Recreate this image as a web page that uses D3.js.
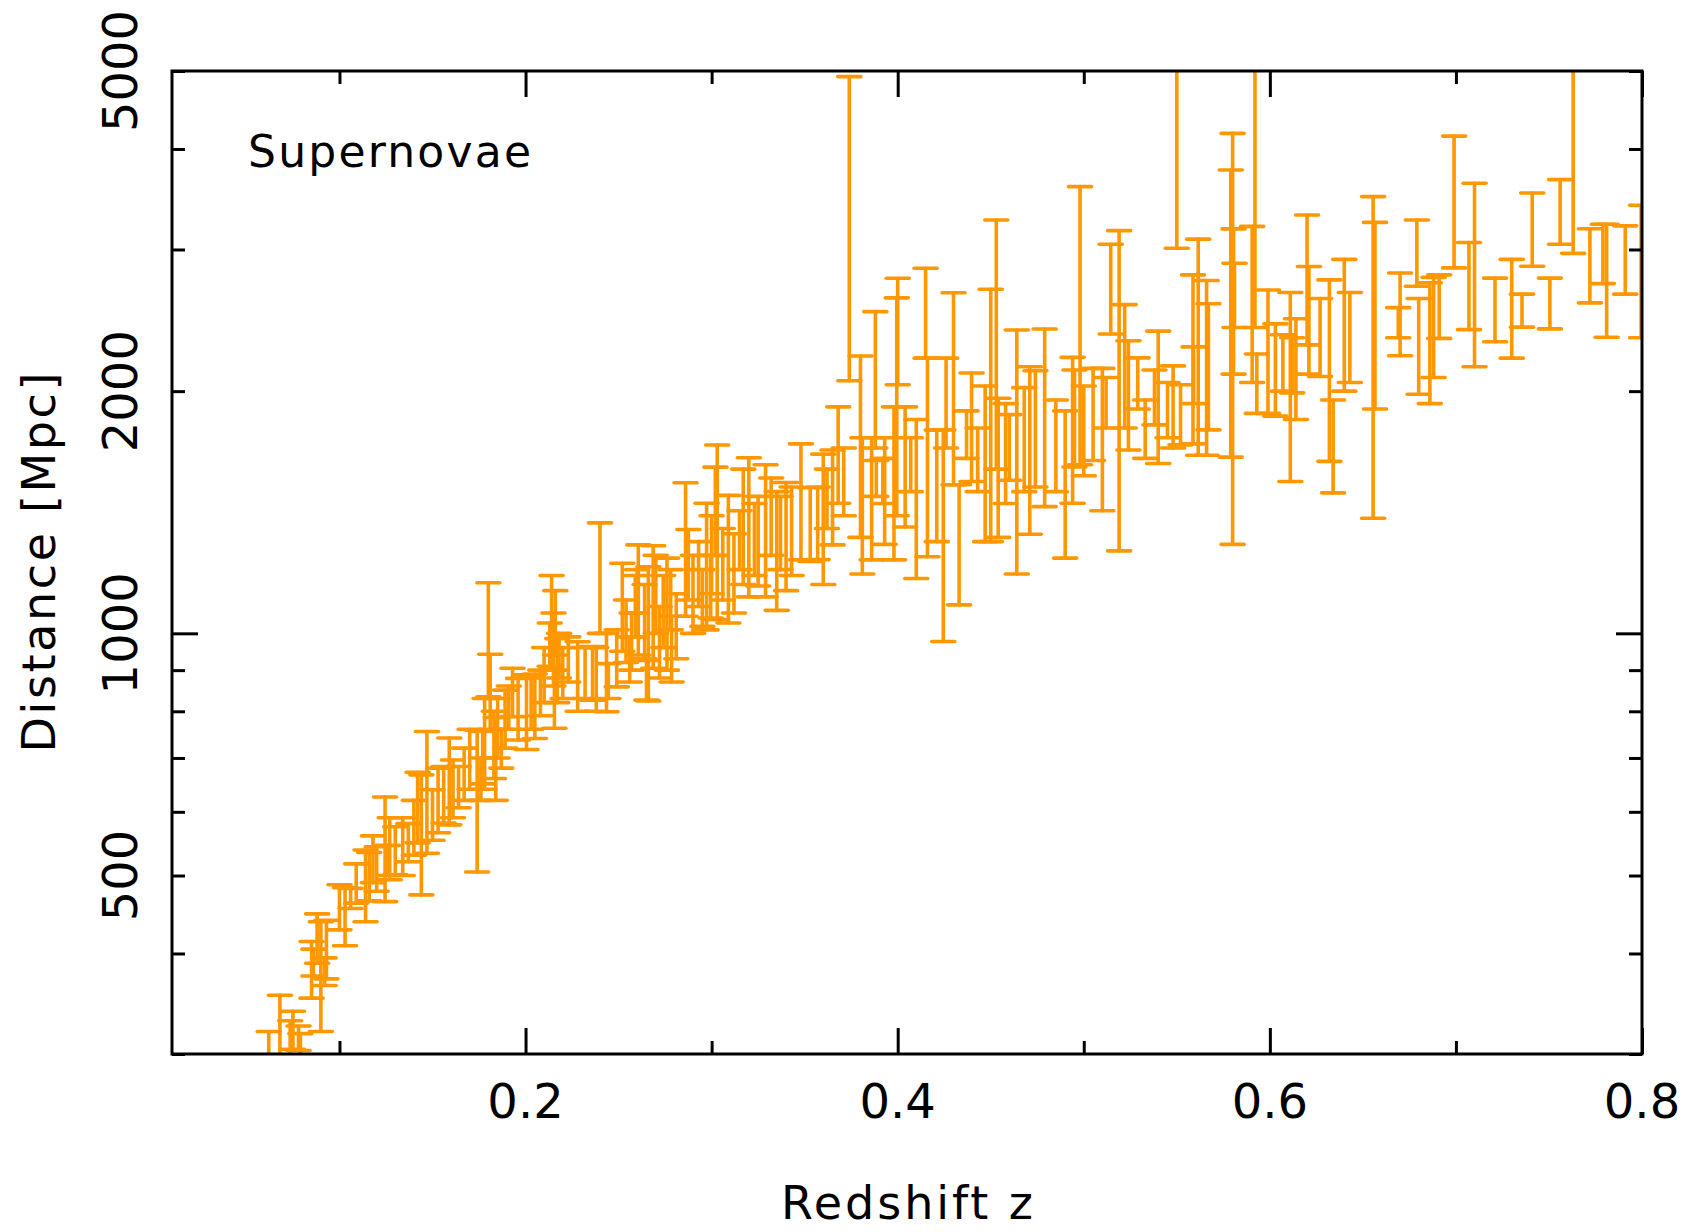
<!DOCTYPE html>
<html>
<head>
<meta charset="utf-8">
<script src="https://cdn.jsdelivr.net/npm/d3@7"></script>
<style>
  html, body { margin: 0; padding: 0; background: #fff; }
  svg { display: block; }
  text { font-family: "DejaVu Sans", sans-serif; fill: #000; }
</style>
</head>
<body>
<svg id="chart" width="1690" height="1232"></svg>
<script>
// ---- data (redshift, lower and upper distance of each error bar, Mpc) ----
const redshift = [
 0.062,0.068,0.0735,0.075,0.079,0.078,0.085,0.088,0.090,0.093,0.086,0.092,
 0.100,0.103,0.106,0.109,0.114,0.116,0.120,0.1245,0.127,0.130,0.118,0.126,0.134,0.137,
 0.147,0.144,0.142,0.150,0.153,0.156,0.159,0.161,0.164,0.140,0.167,0.170,
 0.174,0.180,0.181,0.178,0.183,0.185,0.187,0.189,0.176,0.177,0.184,0.191,
 0.193,0.196,0.2005,0.203,0.205,0.208,0.210,0.214,0.215,0.216,0.217,0.2155,0.218,0.213,0.220,0.223,
 0.228,0.232,0.236,0.238,0.240,0.2435,0.2445,0.249,0.252,0.254,0.256,0.257,0.259,0.260,0.2606,
 0.264,0.266,0.2686,0.270,0.272,0.274,0.276,0.278,0.2785,0.281,0.265,
 0.286,0.2875,0.2973,0.303,0.302,0.309,0.317,0.320,0.325,0.329,0.335,0.340,
 0.290,0.293,0.295,0.300,0.306,0.312,0.315,0.323,0.332,0.337,0.343,0.2995,
 0.348,0.353,0.357,0.360,0.365,0.368,0.374,0.380,0.381,0.386,0.3885,0.388,0.393,0.398,
 0.400,0.3995,0.404,0.410,0.415,0.416,0.421,0.4245,0.430,0.433,0.437,0.4397,0.447,0.450,
 0.453,0.454,0.458,0.460,0.464,0.468,0.471,0.474,0.479,0.362,0.371,0.392,0.407,0.426,0.443,
 0.490,0.494,0.498,0.495,0.500,0.505,0.510,0.512,0.5145,0.519,0.524,0.522,0.533,0.540,0.538,
 0.548,0.550,0.552,0.5587,0.559,0.5615,0.566,0.567,0.485,0.529,0.545,
 0.580,0.579,0.5805,0.581,0.592,0.5905,0.593,0.599,0.603,0.611,0.614,0.612,0.620,0.621,
 0.627,0.632,0.634,0.640,0.643,0.6555,0.6565,0.670,0.669,0.679,0.680,0.686,0.688,0.691,
 0.699,0.707,0.710,0.721,0.730,0.7355,0.741,0.7505,0.756,0.763,0.772,0.781,0.779,0.791,0.7995,0.607
];
const distLow = [
 280,270,285,304,290,303,352,389,320,372,375,365,
 428,409,455,462,438,465,478,464,494,501,490,500,500,520,
 533,473,549,553,565,581,578,590,607,530,620,640,
 505,834,760,640,660,700,680,720,620,650,620,760,
 788,737,717,760,740,790,820,900,860,940,820,762,880,910,830,870,
 800,830,826,800,1000,799,830,858,950,920,870,900,990,1060,940,
 930,824,905,1000,880,960,900,1010,870,930,826,
 1050,1100,1010,1040,1250,1030,1150,1110,1145,1110,1068,1130,
 1000,1080,1020,1120,1100,1060,1200,1180,1250,1200,1180,1045,
 1234,1228,1235,1150,1288,1451,2060,1316,1185,1234,1480,1700,1290,1234,
 2037,1400,1356,1170,2198,1245,1300,977,1530,1085,1650,1544,1300,1300,
 1600,1316,1450,1550,1185,1500,1328,1520,1437,1350,1400,1450,1500,1700,1500,
 1240,1451,1620,1610,1570,1640,1420,1800,2355,1266,1690,1800,1650,1626,1816,
 1700,3010,1715,1720,1930,1665,1665,1790,1500,1900,1750,
 1290,1656,2100,2400,2400,2050,1877,1877,1862,1544,1844,1990,2283,2100,
 2086,1636,1495,2000,2050,1390,1900,2213,2330,2700,1982,1930,2080,2326,
 2846,2385,2145,2304,2198,2402,2860,2390,3045,2967,2575,2334,2721,2640,2330,2000
];
const distHigh = [
 320,355,330,339,318,325,414,448,438,440,405,395,
 487,483,482,517,538,534,543,626,590,575,560,545,590,580,
 755,667,672,639,680,683,741,696,683,620,720,760,
 758,1156,942,830,800,830,760,850,700,755,786,860,
 905,879,888,880,890,900,960,1180,1060,1130,985,900,1000,1030,960,990,
 976,960,963,960,1372,1000,917,1010,1222,1100,990,1060,1180,1200,1288,
 1150,1210,1285,1250,1080,1180,1240,1200,1050,1120,925,
 1539,1346,1451,1714,1609,1484,1600,1653,1480,1620,1500,1540,
 1250,1300,1200,1400,1350,1330,1420,1450,1560,1480,1520,1250,
 1720,1517,1520,1670,1690,1912,4920,2212,1750,1750,1640,2511,1750,1912,
 2763,2612,1912,1844,2843,2198,1789,1790,2651,1530,1890,2107,2030,2677,
 3264,1960,1930,1870,2383,2020,2145,2120,2389,1600,1700,1650,1750,2198,1800,
 1890,2203,3591,2125,2030,2135,2135,2080,3045,3166,2310,2562,1950,2375,2125,
 2150,6000,2037,2790,2270,3090,2745,2568,1950,2200,2050,
 4183,3766,3182,2884,6000,3205,2224,2672,2425,2653,2460,2330,3311,2857,
 2607,2750,1950,2916,2653,3490,3242,2805,2540,3264,2607,2727,2770,2790,
 4150,3060,3626,2764,2916,2640,3526,2764,3664,5800,3184,3225,3225,3210,3405,2350
];

// ---- axes ----
const xLabelTicks = [0.2, 0.4, 0.6, 0.8];
const xMinorTicks = [0.1, 0.3, 0.5, 0.7];
const yLabelTicks = [500, 1000, 2000, 5000];
const yMajorTicks = [1000];
const yMinorTicks = [300, 400, 500, 600, 700, 800, 900, 2000, 3000, 4000, 5000];
const xDomain = [0.01, 0.8];
const yDomain = [300, 5000];
const xTitle = "Redshift z";
const yTitle = "Distance [Mpc]";
const panelLabel = "Supernovae";

// ---- layout ----
const L = 172, R = 1642, T = 71, B = 1054;
const svg = d3.select("#chart");
const x = d3.scaleLinear().domain(xDomain).range([L, R]);
const y = d3.scaleLog().domain(yDomain).range([B, T]);
const orange = "#ff9700";
const majorLen = 26, minorLen = 13;

svg.append("defs").append("clipPath").attr("id", "plotclip")
  .append("rect").attr("x", L).attr("y", T).attr("width", R - L).attr("height", B - T);

// error bars
const bars = svg.append("g").attr("clip-path", "url(#plotclip)")
  .attr("stroke", orange).attr("stroke-width", 3.6).attr("stroke-linecap", "round").attr("fill", "none");
const capHalf = 11.5;
const idx = d3.range(redshift.length);
bars.selectAll("line.v").data(idx).join("line").attr("class", "v")
  .attr("x1", i => x(redshift[i])).attr("x2", i => x(redshift[i]))
  .attr("y1", i => y(distLow[i])).attr("y2", i => y(distHigh[i]));
bars.selectAll("line.lo").data(idx).join("line").attr("class", "lo")
  .attr("x1", i => x(redshift[i]) - capHalf).attr("x2", i => x(redshift[i]) + capHalf)
  .attr("y1", i => y(distLow[i])).attr("y2", i => y(distLow[i]));
bars.selectAll("line.hi").data(idx).join("line").attr("class", "hi")
  .attr("x1", i => x(redshift[i]) - capHalf).attr("x2", i => x(redshift[i]) + capHalf)
  .attr("y1", i => y(distHigh[i])).attr("y2", i => y(distHigh[i]));

// tick marks (inside) with d3 axes
function styleAxis(g) {
  g.select(".domain").remove();
  g.selectAll(".tick text").remove();
  g.selectAll(".tick line").attr("stroke", "#000").attr("stroke-width", 3);
}
svg.append("g").attr("transform", `translate(0,${B})`)
  .call(d3.axisBottom(x).tickValues(xLabelTicks).tickSize(-majorLen)).call(styleAxis);
svg.append("g").attr("transform", `translate(0,${B})`)
  .call(d3.axisBottom(x).tickValues(xMinorTicks).tickSize(-minorLen)).call(styleAxis);
svg.append("g").attr("transform", `translate(0,${T})`)
  .call(d3.axisTop(x).tickValues(xLabelTicks).tickSize(-majorLen)).call(styleAxis);
svg.append("g").attr("transform", `translate(0,${T})`)
  .call(d3.axisTop(x).tickValues(xMinorTicks).tickSize(-minorLen)).call(styleAxis);
svg.append("g").attr("transform", `translate(${L},0)`)
  .call(d3.axisLeft(y).tickValues(yMajorTicks).tickSize(-majorLen)).call(styleAxis);
svg.append("g").attr("transform", `translate(${L},0)`)
  .call(d3.axisLeft(y).tickValues(yMinorTicks).tickSize(-minorLen)).call(styleAxis);
svg.append("g").attr("transform", `translate(${R},0)`)
  .call(d3.axisRight(y).tickValues(yMajorTicks).tickSize(-majorLen)).call(styleAxis);
svg.append("g").attr("transform", `translate(${R},0)`)
  .call(d3.axisRight(y).tickValues(yMinorTicks).tickSize(-minorLen)).call(styleAxis);

// frame
svg.append("rect").attr("x", L).attr("y", T).attr("width", R - L).attr("height", B - T)
  .attr("fill", "none").attr("stroke", "#000").attr("stroke-width", 3);

// tick labels
svg.append("g").selectAll("text").data(xLabelTicks).join("text")
  .attr("x", d => x(d)).attr("y", 1118).attr("text-anchor", "middle")
  .attr("font-size", 48).text(d => d3.format(".1f")(d));
svg.append("g").selectAll("text").data(yLabelTicks).join("text")
  .attr("transform", d => `translate(137,${y(d)}) rotate(-90)`).attr("text-anchor", "middle")
  .attr("font-size", 48).text(d => String(d));

// titles
svg.append("text").attr("x", (L + R) / 2).attr("y", 1219).attr("text-anchor", "middle")
  .attr("font-size", 46).attr("textLength", 252).attr("lengthAdjust", "spacing").text(xTitle);
svg.append("text").attr("transform", `translate(55,${(T + B) / 2}) rotate(-90)`)
  .attr("text-anchor", "middle").attr("font-size", 46)
  .attr("textLength", 380).attr("lengthAdjust", "spacing").text(yTitle);
svg.append("text").attr("x", 248).attr("y", 167).attr("font-size", 44)
  .attr("textLength", 283).attr("lengthAdjust", "spacing").text(panelLabel);
</script>
</body>
</html>
